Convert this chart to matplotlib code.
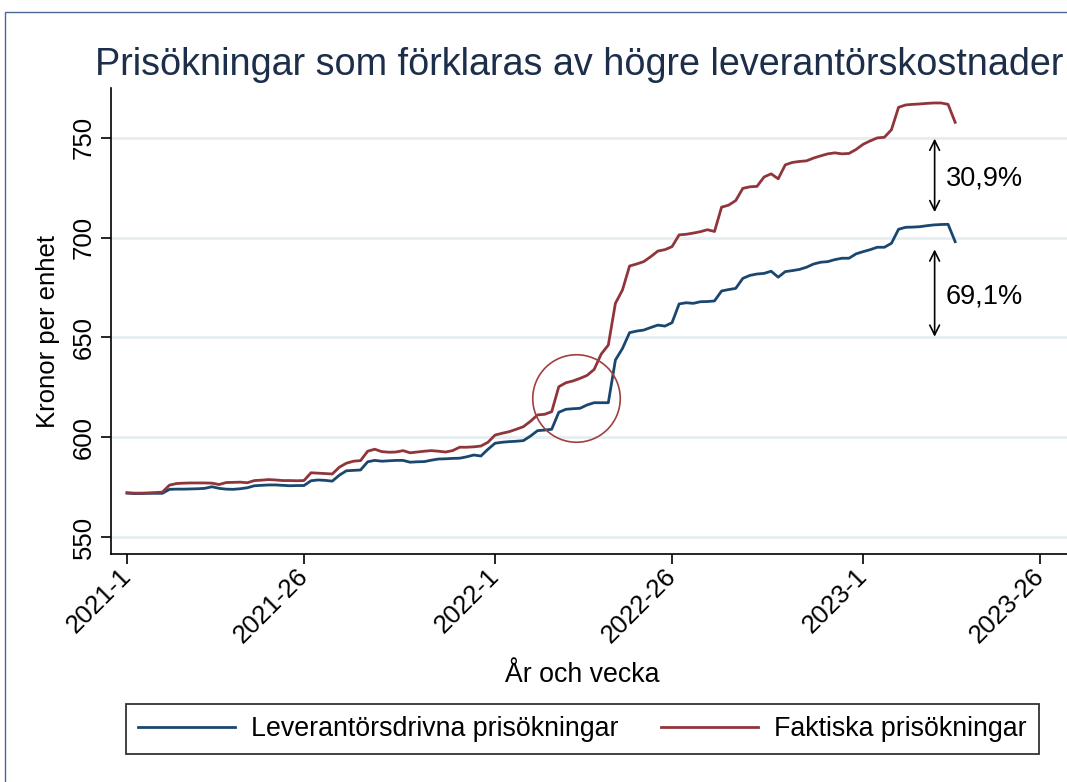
import matplotlib
matplotlib.use("Agg")
import matplotlib.pyplot as plt
from matplotlib.patches import Rectangle

plt.rcParams['font.family'] = ['Liberation Sans', 'DejaVu Sans']

# weekly series, index 0 = 2021-1
leverantor = [572.0, 571.8, 571.8, 571.9, 571.9, 571.9, 573.9, 574.0, 574.0, 574.1,
              574.2, 574.4, 575.2, 574.4, 574.0, 573.9, 574.2, 574.7, 575.7, 575.9,
              576.1, 576.1, 575.9, 575.7, 575.8, 575.8, 578.2, 578.6, 578.4, 578.0,
              581.0, 583.2, 583.4, 583.6, 587.7, 588.4, 588.0, 588.2, 588.4, 588.4,
              587.5, 587.7, 587.8, 588.5, 589.1, 589.2, 589.4, 589.5, 590.2, 591.1,
              590.6, 594.0, 597.0, 597.5, 597.8, 598.0, 598.3, 600.6, 603.3, 603.6,
              604.0, 612.5, 614.0, 614.3, 614.5, 616.2, 617.3, 617.3, 617.3, 638.7,
              644.5, 652.4, 653.2, 653.7, 655.0, 656.2, 655.7, 657.4, 666.8, 667.4,
              667.1, 667.9, 668.0, 668.3, 673.3, 674.0, 674.6, 679.6, 681.1, 681.8,
              682.1, 683.2, 680.2, 683.0, 683.5, 684.1, 685.2, 686.8, 687.7, 688.0,
              689.0, 689.7, 689.7, 691.9, 693.0, 694.0, 695.2, 695.2, 697.2, 704.2,
              705.2, 705.3, 705.5, 706.0, 706.4, 706.6, 706.7, 698.0]

faktiska = [572.2, 572.0, 572.0, 572.1, 572.3, 572.5, 576.0, 576.8, 577.0, 577.1,
            577.1, 577.1, 577.0, 576.3, 577.3, 577.4, 577.5, 577.2, 578.3, 578.5,
            578.8, 578.6, 578.3, 578.3, 578.2, 578.3, 582.2, 582.0, 581.8, 581.6,
            585.0, 587.0, 588.0, 588.3, 593.0, 594.0, 592.8, 592.5, 592.6, 593.3,
            592.2, 592.6, 593.0, 593.3, 593.0, 592.6, 593.3, 595.0, 595.0, 595.2,
            595.6, 597.5, 601.1, 602.0, 602.8, 604.0, 605.3, 608.0, 611.2, 611.5,
            612.8, 625.3, 627.3, 628.2, 629.5, 631.0, 634.0, 641.7, 646.2, 667.1,
            673.8, 685.8, 686.8, 688.0, 690.5, 693.3, 694.0, 695.5, 701.4, 701.7,
            702.3, 703.0, 704.0, 703.1, 715.3, 716.3, 718.6, 724.7, 725.5, 725.7,
            730.4, 732.0, 729.5, 736.5, 737.7, 738.2, 738.5, 739.9, 741.0, 742.0,
            742.5, 742.0, 742.2, 744.2, 746.8, 748.5, 750.0, 750.3, 754.1, 765.3,
            766.5, 766.8, 767.0, 767.3, 767.5, 767.5, 766.8, 757.8]

weeks = list(range(len(faktiska)))
tick_pos = [0, 25, 52, 77, 104, 129]
tick_labels = ["2021-1", "2021-26", "2022-1", "2022-26", "2023-1", "2023-26"]
y_ticks = [550, 600, 650, 700, 750]

blue = '#1a476f'
red = '#90353b'
grid = '#e6eef1'

W, H = 1067, 782
fig = plt.figure(figsize=(W / 100, H / 100), dpi=100)
ax = fig.add_axes([110.5 / W, 1 - 554 / H, (W - 110.5) / W, (554 - 88) / H])

ax.plot(weeks, leverantor, color=blue, lw=2.0, label='Leverantörsdrivna prisökningar')
ax.plot(weeks, faktiska, color=red, lw=2.0, label='Faktiska prisökningar')

ax.set_xlim(-2.33, 132.8)
ax.set_ylim(541.5, 775)
ax.set_yticks(y_ticks)
ax.set_yticklabels([str(v) for v in y_ticks], rotation=90, va='center', fontsize=18.5)
ax.set_xticks(tick_pos)
ax.set_xticklabels(tick_labels, rotation=45, ha='right', va='center',
                   rotation_mode='anchor', fontsize=18.5)
ax.tick_params(axis='both', length=7, width=1.2, direction='out')
ax.tick_params(axis='x', pad=6)
ax.grid(axis='y', color=grid, lw=2)
ax.set_axisbelow(True)
for s in ['top', 'right']:
    ax.spines[s].set_visible(False)
for s in ['left', 'bottom']:
    ax.spines[s].set_linewidth(1.2)

# circle around the 2022 spring divergence
ax.plot([63.5], [619.9], 'o', ms=63, mfc='none', mec='#a0403f', mew=1.2)

# share arrows
arrow = dict(arrowstyle='<->,head_length=0.7,head_width=0.35', color='black', lw=1.2)
ax.annotate('', xy=(114.1, 751.0), xytext=(114.1, 711.4), arrowprops=arrow)
ax.annotate('', xy=(114.1, 695.5), xytext=(114.1, 649.0), arrowprops=arrow)
ax.text(115.7, 729.5, '30,9%', fontsize=19.5, va='center', ha='left')
ax.text(115.7, 670.5, '69,1%', fontsize=19.5, va='center', ha='left')

fig.text(95 / W, 1 - 65 / H, 'Prisökningar som förklaras av högre leverantörskostnader',
         fontsize=27.2, color='#1c2e4a', ha='left', va='center')
fig.text(48 / W, 1 - 331 / H, 'Kronor per enhet', rotation=90, fontsize=18.5,
         ha='center', va='center')
fig.text(582 / W, 1 - 675 / H, 'År och vecka', fontsize=19.3, ha='center', va='center')

leg = fig.legend(loc='center', bbox_to_anchor=(582.5 / W, 1 - 729 / H),
                 ncol=2, fontsize=19.3, handlelength=3.6, handletextpad=0.6,
                 columnspacing=1.6, borderpad=0.45, fancybox=False,
                 edgecolor='black', borderaxespad=0)
leg.get_frame().set_linewidth(1.3)

# outer frame of the graph region
fig.add_artist(Rectangle((5 / W, -0.1), 1.2, 1 - 12 / H + 0.1, transform=fig.transFigure,
                         fill=False, edgecolor='#4a6896', lw=1.0))

fig.savefig('out.png', dpi=100)
